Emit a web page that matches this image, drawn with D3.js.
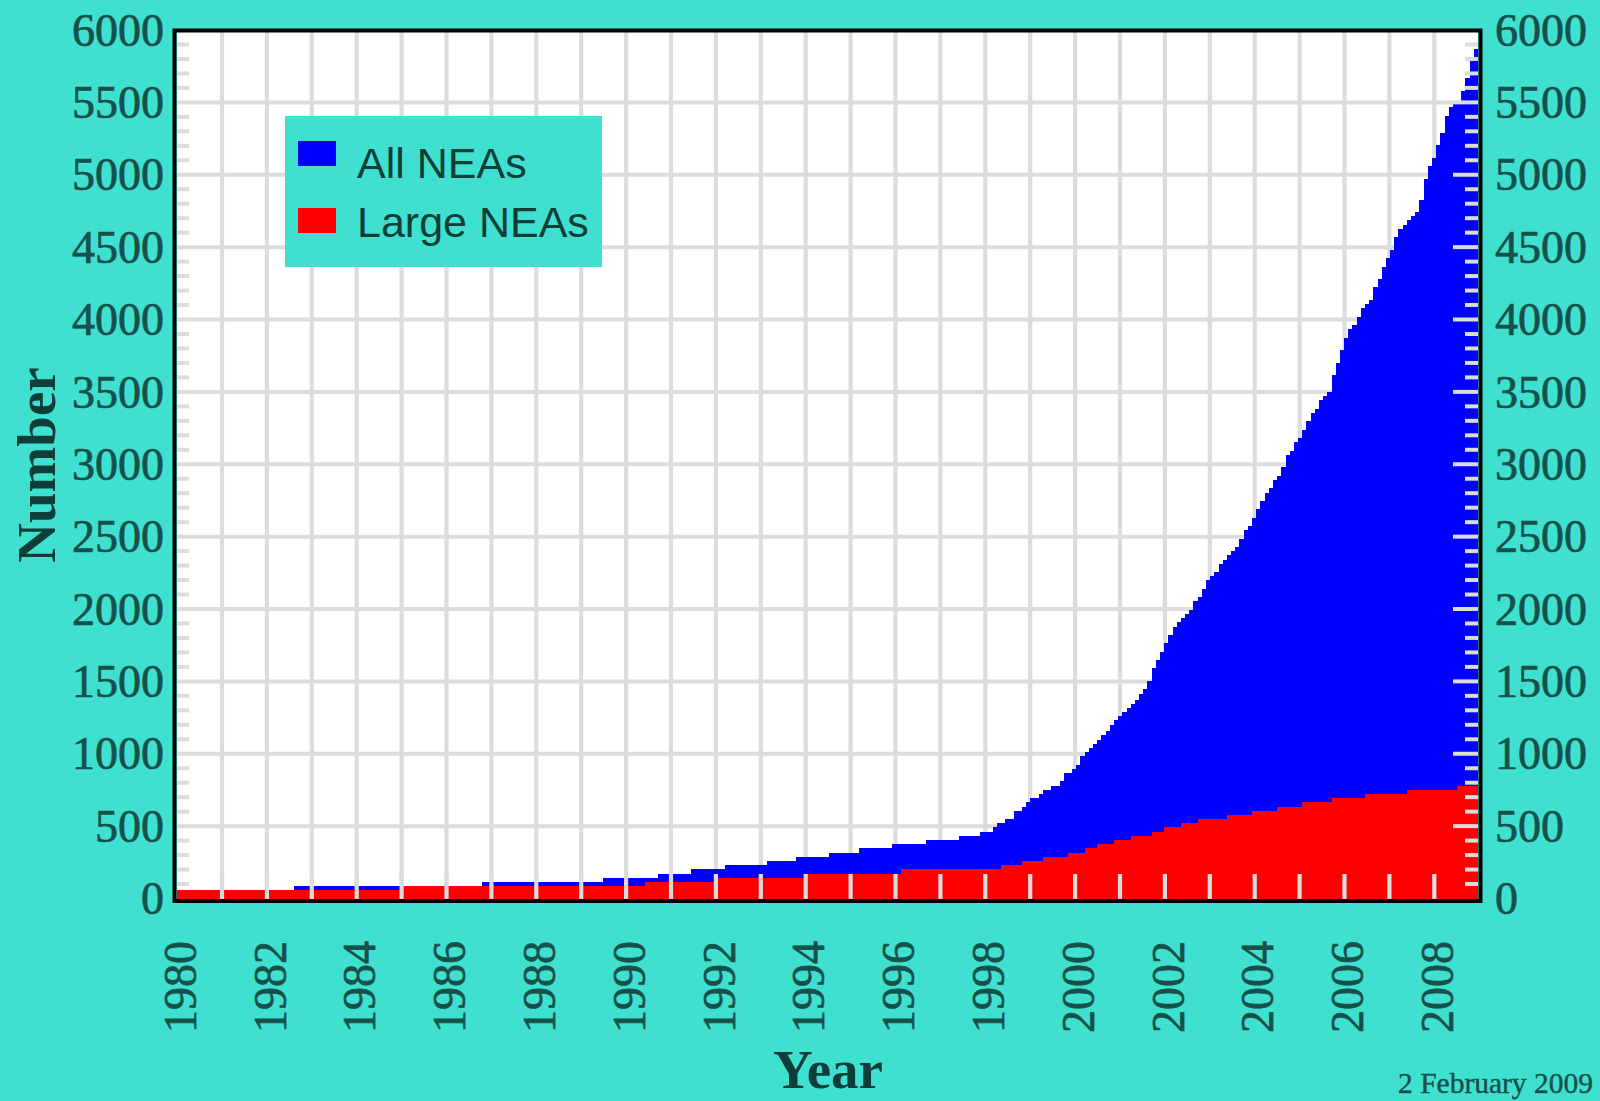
<!DOCTYPE html>
<html><head><meta charset="utf-8">
<script src="https://cdn.jsdelivr.net/npm/d3@7"></script>
<style>html,body{margin:0;padding:0;background:#40E0D0;overflow:hidden}</style>
</head><body>
<svg id="chart" width="1600" height="1101"></svg>
<script>
// ---- data (step change points) ----
const allYears = [1980.00,1982.60,1986.79,1989.49,1990.71,1991.44,1992.20,1993.14,1993.78,1994.52,1995.19,1995.92,1996.68,1997.41,1997.88,1998.17,1998.26,1998.44,1998.64,1998.82,1998.91,1999.00,1999.20,1999.29,1999.47,1999.67,1999.76,1999.93,2000.02,2000.11,2000.22,2000.31,2000.40,2000.49,2000.58,2000.69,2000.78,2000.87,2000.96,2001.05,2001.16,2001.25,2001.34,2001.42,2001.51,2001.60,2001.71,2001.80,2001.89,2001.98,2002.07,2002.18,2002.27,2002.36,2002.45,2002.54,2002.63,2002.74,2002.83,2002.92,2003.00,2003.09,2003.21,2003.30,2003.38,2003.47,2003.56,2003.65,2003.76,2003.85,2003.94,2004.03,2004.12,2004.23,2004.32,2004.41,2004.50,2004.59,2004.70,2004.79,2004.88,2004.97,2005.05,2005.14,2005.25,2005.34,2005.43,2005.52,2005.61,2005.72,2005.81,2005.90,2005.99,2006.08,2006.17,2006.28,2006.37,2006.46,2006.55,2006.63,2006.74,2006.83,2006.92,2007.01,2007.10,2007.19,2007.30,2007.39,2007.48,2007.57,2007.66,2007.77,2007.86,2007.95,2008.04,2008.13,2008.24,2008.33,2008.42,2008.60,2008.68,2008.80,2008.88];
const allCounts = [59,86,114,141,169,204,231,259,287,314,349,376,404,432,459,494,522,549,604,632,667,694,722,750,777,812,867,895,922,984,1012,1040,1067,1095,1129,1157,1200,1230,1260,1290,1318,1345,1372,1413,1447,1503,1592,1648,1703,1765,1820,1875,1910,1937,1965,1993,2055,2083,2138,2200,2228,2255,2311,2338,2373,2400,2428,2483,2545,2573,2630,2690,2747,2802,2837,2892,2920,2982,3065,3092,3154,3181,3237,3300,3356,3384,3444,3474,3501,3619,3700,3791,3874,3936,3962,4017,4081,4107,4135,4225,4280,4364,4426,4480,4570,4625,4653,4687,4715,4743,4826,4971,5061,5116,5206,5289,5406,5469,5496,5580,5671,5786,5869];
const largeYears = [1980.00,1985.02,1990.42,1991.99,1993.96,1996.12,1998.35,1998.82,1999.29,1999.84,2000.22,2000.49,2000.87,2001.25,2001.71,2001.98,2002.36,2002.74,2003.38,2003.94,2004.50,2005.05,2005.72,2006.46,2007.39,2008.51];
const largeCounts = [59,86,114,141,169,204,231,259,287,314,349,376,404,432,459,494,522,549,577,604,632,667,694,722,750,777];
const endYear = 2009;
const yearTicks = [1980,1982,1984,1986,1988,1990,1992,1994,1996,1998,2000,2002,2004,2006,2008];
const countTicks = [0,500,1000,1500,2000,2500,3000,3500,4000,4500,5000,5500,6000];
const seriesNames = ["All NEAs", "Large NEAs"];
const seriesColors = ["#0000FF", "#FF0000"];
const xTitle = "Year", yTitle = "Number", dateNote = "2 February 2009";

// ---- drawing ----
const svg = d3.select("#chart");
const W = 1600, H = 1101;
const x = d3.scaleLinear().domain([1980, endYear]).range([177.1, 1479.2]);
const y = d3.scaleLinear().domain([0, 6000]).range([898.5, 30]);
const grid = "#dcdcdc";
const serif = "'Liberation Serif','Times New Roman',serif";
const sans = "'Liberation Sans',Arial,sans-serif";
const labelColor = "#16504a";

svg.append("rect").attr("width", W).attr("height", H).attr("fill", "#40E0D0");

const x0 = x(1980), x1 = x.range()[1] - 1.2, yTop = y(6000), yBot = y(0) + 0.5;
svg.append("rect").attr("x", x0).attr("y", yTop).attr("width", x1 - x0).attr("height", yBot - yTop).attr("fill", "#fff");

svg.append("clipPath").attr("id", "plotClip").append("rect")
  .attr("x", x0).attr("y", yTop).attr("width", x1 - x0).attr("height", yBot - yTop + 2);

// gridlines
const gGrid = svg.append("g").attr("clip-path", "url(#plotClip)");
gGrid.selectAll("line.v").data(d3.range(1981, 2009)).join("line")
  .attr("x1", d => x(d)).attr("x2", d => x(d)).attr("y1", yTop).attr("y2", yBot)
  .attr("stroke", grid).attr("stroke-width", 4.2);
gGrid.selectAll("line.h").data(countTicks.filter(v => v > 0 && v < 6000)).join("line")
  .attr("x1", x0).attr("x2", x1).attr("y1", d => y(d)).attr("y2", d => y(d))
  .attr("stroke", grid).attr("stroke-width", 4);

// series as step areas
function stepData(ys, cs) {
  const pts = ys.map((t, i) => [t, cs[i]]);
  pts.push([endYear, cs[cs.length - 1]]);
  return pts;
}
const area = d3.area().curve(d3.curveStepAfter)
  .x(d => x(d[0])).y0(yBot + 2).y1(d => y(d[1]));
const gData = svg.append("g").attr("clip-path", "url(#plotClip)").attr("shape-rendering", "crispEdges");
gData.append("path").datum(stepData(allYears, allCounts)).attr("d", area).attr("fill", seriesColors[0]);
gData.append("path").datum(stepData(largeYears, largeCounts)).attr("d", area).attr("fill", seriesColors[1]);

// ticks drawn over data
const gTicks = svg.append("g").attr("stroke", grid);
const minor = d3.range(100, 6000, 100).filter(v => v % 500 !== 0);
gTicks.selectAll("line.lm").data(minor).join("line")
  .attr("x1", x0).attr("x2", x0 + 12).attr("y1", d => y(d)).attr("y2", d => y(d)).attr("stroke-width", 4);
gTicks.selectAll("line.rm").data(minor).join("line")
  .attr("x1", x1 - 13).attr("x2", x1).attr("y1", d => y(d)).attr("y2", d => y(d)).attr("stroke-width", 4);
gTicks.selectAll("line.rM").data(countTicks.filter(v => v > 0 && v < 6000)).join("line")
  .attr("x1", x1 - 25).attr("x2", x1).attr("y1", d => y(d)).attr("y2", d => y(d)).attr("stroke-width", 4);
gTicks.selectAll("line.bx").data(d3.range(1981, 2009)).join("line")
  .attr("x1", d => x(d)).attr("x2", d => x(d)).attr("y1", yBot - 25).attr("y2", yBot).attr("stroke-width", 4.2);

// frame
svg.append("rect").attr("x", 174.5).attr("y", 30.5).attr("width", 1306).attr("height", 870.5)
  .attr("fill", "none").attr("stroke", "#000").attr("stroke-width", 4);

// y tick labels (both sides)
const yl = svg.append("g").attr("font-family", serif).attr("font-size", 46).attr("fill", labelColor)
  .attr("stroke", labelColor).attr("stroke-width", 0.7);
yl.selectAll("text.l").data(countTicks).join("text")
  .attr("x", 164).attr("y", d => y(d)).attr("dy", "0.34em").attr("text-anchor", "end").text(d => d);
yl.selectAll("text.r").data(countTicks).join("text")
  .attr("x", 1495).attr("y", d => y(d)).attr("dy", "0.34em").attr("text-anchor", "start").text(d => d);

// x tick labels (rotated)
svg.append("g").attr("font-family", serif).attr("font-size", 46).attr("fill", labelColor)
  .attr("stroke", labelColor).attr("stroke-width", 0.7)
  .selectAll("text").data(yearTicks).join("text")
  .attr("transform", d => `translate(${x(d) + 3},941) rotate(-90)`)
  .attr("text-anchor", "end").attr("dy", "0.34em").text(d => d);

// axis titles
svg.append("text").attr("x", 828).attr("y", 1088).attr("text-anchor", "middle")
  .attr("font-family", serif).attr("font-weight", "bold").attr("font-size", 55).attr("fill", "#0f3d38").text(xTitle);
svg.append("text").attr("transform", "translate(55,465) rotate(-90)").attr("text-anchor", "middle")
  .attr("font-family", serif).attr("font-weight", "bold").attr("font-size", 55).attr("fill", "#0f3d38").text(yTitle);
svg.append("text").attr("x", 1398).attr("y", 1093)
  .attr("font-family", serif).attr("font-size", 29.5).attr("fill", "#16504a")
  .attr("stroke", "#16504a").attr("stroke-width", 0.4).text(dateNote);

// legend
const lg = svg.append("g");
lg.append("rect").attr("x", 285).attr("y", 116).attr("width", 317).attr("height", 151).attr("fill", "#40E0D0");
seriesNames.forEach((name, i) => {
  lg.append("rect").attr("x", 298).attr("y", 141 + i * 67).attr("width", 38).attr("height", 25).attr("fill", seriesColors[i]);
  lg.append("text").attr("x", 357).attr("y", 178 + i * 59).attr("font-family", sans).attr("font-size", 43)
    .attr("fill", "#0f3d38").text(name);
});
</script>
</body></html>
